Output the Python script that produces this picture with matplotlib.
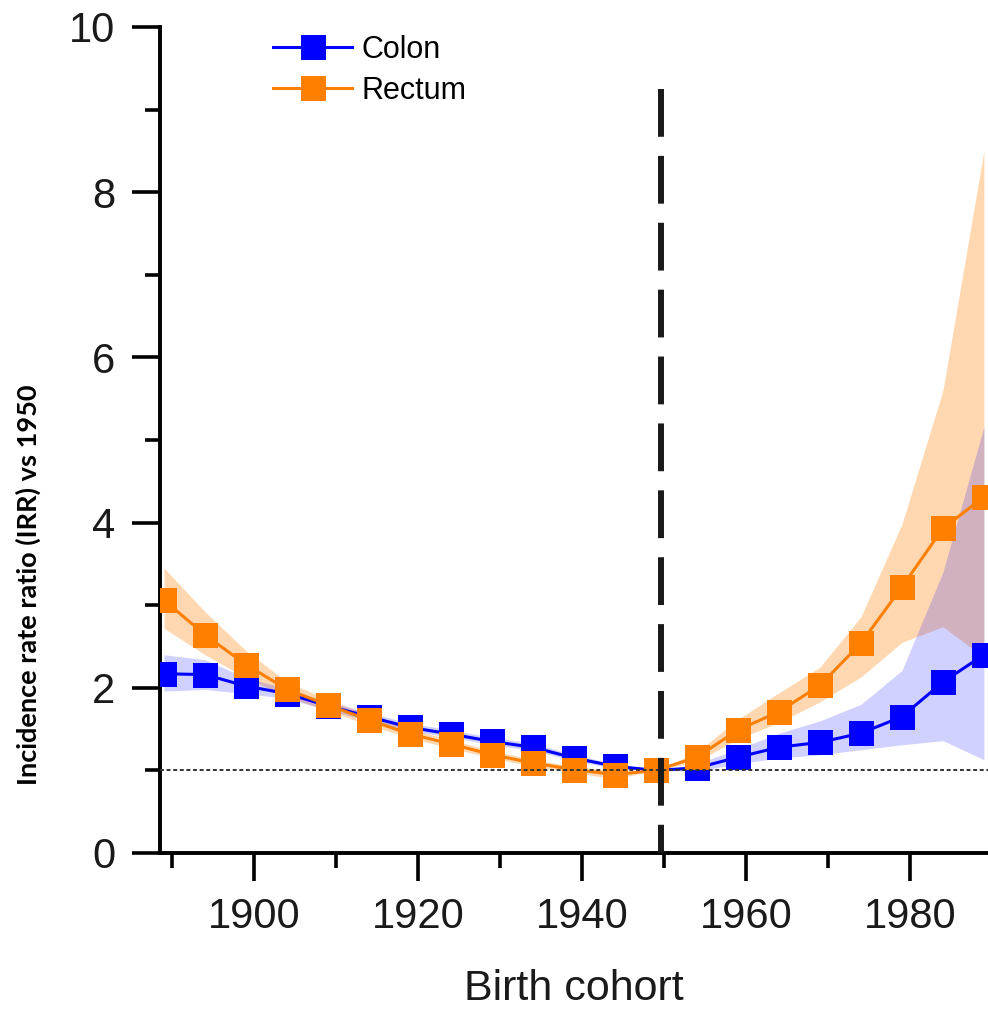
import matplotlib
matplotlib.use("Agg")
import matplotlib.pyplot as plt
from matplotlib.ticker import MultipleLocator

# birth cohort midpoints
cohort = [1889, 1894, 1899, 1904, 1909, 1914, 1919, 1924, 1929, 1934, 1939,
          1944, 1949, 1954, 1959, 1964, 1969, 1974, 1979, 1984, 1989]

# incidence rate ratio vs 1950 with 95% CI
colon_irr = [2.17, 2.16, 2.02, 1.93, 1.78, 1.65, 1.52, 1.44, 1.35, 1.28, 1.15,
             1.05, 1.00, 1.03, 1.16, 1.28, 1.34, 1.45, 1.65, 2.07, 2.40]
colon_lo = [1.96, 1.98, 1.93, 1.87, 1.73, 1.60, 1.48, 1.40, 1.31, 1.24, 1.12,
            1.02, 1.00, 0.99, 1.08, 1.15, 1.19, 1.25, 1.31, 1.36, 1.13]
colon_hi = [2.40, 2.34, 2.12, 1.99, 1.83, 1.70, 1.57, 1.49, 1.40, 1.33, 1.19,
            1.08, 1.00, 1.08, 1.26, 1.45, 1.60, 1.80, 2.21, 3.40, 5.16]

rectum_irr = [3.06, 2.64, 2.28, 1.98, 1.79, 1.61, 1.44, 1.32, 1.19, 1.09, 1.01,
              0.95, 1.00, 1.16, 1.49, 1.71, 2.03, 2.54, 3.22, 3.93, 4.31]
rectum_lo = [2.72, 2.40, 2.12, 1.89, 1.72, 1.55, 1.39, 1.27, 1.15, 1.05, 0.97,
             0.90, 1.00, 1.11, 1.38, 1.58, 1.83, 2.13, 2.55, 2.74, 2.37]
rectum_hi = [3.45, 2.92, 2.45, 2.07, 1.86, 1.67, 1.50, 1.37, 1.24, 1.13, 1.05,
             0.99, 1.00, 1.22, 1.62, 1.94, 2.25, 2.86, 3.98, 5.60, 8.50]

ref_year = 1949.6
ref_irr = 1.0

BLUE = "#0000ff"
ORANGE = "#ff8000"

plt.rcParams["font.family"] = ["Liberation Sans", "DejaVu Sans"]

fig = plt.figure(figsize=(9.88, 10.14), dpi=100)
ax = fig.add_axes([160 / 988, 1 - 853 / 1014, 828 / 988, (853 - 27) / 1014])

# confidence bands (orange first so the overlap turns mauve)
ax.fill_between(cohort, rectum_lo, rectum_hi, color=ORANGE, alpha=0.3,
                linewidth=0, zorder=1)
ax.fill_between(cohort, colon_lo, colon_hi, color=BLUE, alpha=0.18,
                linewidth=0, zorder=1.5)

ax.plot(cohort, colon_irr, color=BLUE, lw=2.2, marker="s", ms=18,
        mec=BLUE, mew=0, label="Colon", zorder=3)
ax.plot(cohort, rectum_irr, color=ORANGE, lw=2.2, marker="s", ms=18,
        mec=ORANGE, mew=0, label="Rectum", zorder=4)

# reference lines
ax.axhline(ref_irr, color="#333333", lw=1.4, ls=(0, (2, 1.4)), zorder=5)
ax.plot([ref_year, ref_year], [9.25, 0], color="#1a1a1a", lw=4.3,
        dashes=(8, 3.2), zorder=6, clip_on=False)

ax.set_xlim(1888.5, 1989.5)
ax.set_ylim(0, 10)
ax.xaxis.set_major_locator(MultipleLocator(20))
ax.xaxis.set_minor_locator(MultipleLocator(10))
ax.yaxis.set_major_locator(MultipleLocator(2))
ax.yaxis.set_minor_locator(MultipleLocator(1))

for s in ["top", "right"]:
    ax.spines[s].set_visible(False)
for s in ["left", "bottom"]:
    ax.spines[s].set_linewidth(2.8)
    ax.spines[s].set_color("black")

ax.tick_params(which="major", length=20, width=2.6, labelsize=30,
               labelcolor="#1a1a1a", direction="out")
ax.tick_params(which="minor", length=11, width=2.6, direction="out")
ax.tick_params(axis="y", which="major", pad=12)
ax.tick_params(axis="x", which="major", pad=12)

ax.set_xlabel("Birth cohort", fontsize=31, color="#1a1a1a", labelpad=23)
fig.text(28 / 988, 1 - 585 / 1014, "Incidence rate ratio (IRR) vs 1950",
         rotation=90, ha="center", va="center", fontsize=19.5,
         fontweight="bold", family=["Lato", "Liberation Sans", "DejaVu Sans"])

ax.legend(loc="upper left", bbox_to_anchor=(273 / 988, 1 - 35 / 1014),
          bbox_transform=fig.transFigure, frameon=False, fontsize=22,
          handlelength=2.6, handletextpad=0.3, labelspacing=0.35,
          borderpad=0, borderaxespad=0, markerscale=1.0, numpoints=1)

fig.savefig("out.png", dpi=100)
